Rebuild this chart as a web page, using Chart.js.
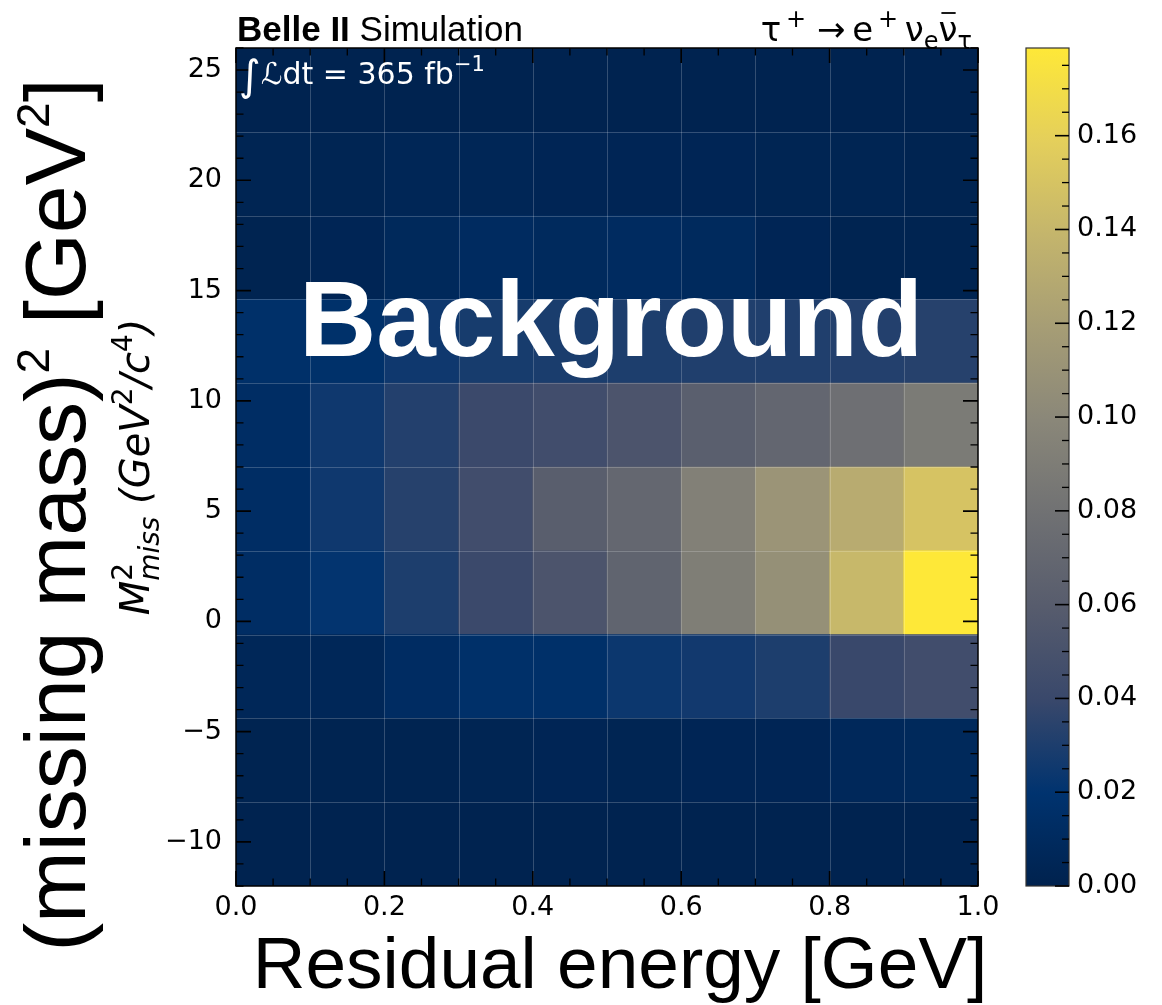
<!DOCTYPE html>
<html><head><meta charset="utf-8">
<script src="https://cdn.jsdelivr.net/npm/chart.js@4.4.1/dist/chart.umd.min.js"></script>
<style>html,body{margin:0;padding:0;background:#fff;}#wrap{width:1162px;height:1005px;position:relative;}</style>
</head><body><div id="wrap"><canvas id="c" width="1162" height="1005"></canvas></div>
<script>
// ---- data: bin edges ----
const xEdges = [0.0, 0.1, 0.2, 0.3, 0.4, 0.5, 0.6, 0.7, 0.8, 0.9, 1.0];
const yEdges = [-12, -8.2, -4.4, -0.6, 3.2, 7.0, 10.8, 14.6, 18.4, 22.2, 26];
// ---- tick labels ----
const xTicks = [0.0, 0.2, 0.4, 0.6, 0.8, 1.0];
const yTicks = [-10, -5, 0, 5, 10, 15, 20, 25];
const cbTicks = [0.00, 0.02, 0.04, 0.06, 0.08, 0.10, 0.12, 0.14, 0.16];
const vMax = 0.1787;
// ---- bin contents, one array per M2miss row (bottom to top), x bins left to right ----
const rowM12_M8p2   = [0.001, 0.001, 0.001, 0.001, 0.001, 0.001, 0.001, 0.001, 0.001, 0.001];
const rowM8p2_M4p4  = [0.002, 0.002, 0.002, 0.003, 0.004, 0.003, 0.004, 0.004, 0.007, 0.008];
const rowM4p4_M0p6  = [0.006, 0.006, 0.012, 0.016, 0.016, 0.024, 0.026, 0.030, 0.040, 0.045];
const rowM0p6_3p2   = [0.013, 0.021, 0.030, 0.041, 0.052, 0.067, 0.091, 0.107, 0.141, 0.1787];
const row3p2_7p0    = [0.013, 0.025, 0.033, 0.045, 0.061, 0.070, 0.093, 0.111, 0.131, 0.150];
const row7p0_10p8   = [0.013, 0.025, 0.032, 0.041, 0.045, 0.052, 0.062, 0.069, 0.078, 0.088];
const row10p8_14p6  = [0.016, 0.017, 0.025, 0.028, 0.029, 0.030, 0.031, 0.031, 0.032, 0.033];
const row14p6_18p4  = [0.002, 0.004, 0.008, 0.011, 0.009, 0.011, 0.009, 0.004, 0.002, 0.002];
const row18p4_22p2  = [0.003, 0.003, 0.005, 0.005, 0.004, 0.004, 0.004, 0.003, 0.003, 0.002];
const row22p2_26    = [0.001, 0.001, 0.001, 0.001, 0.001, 0.001, 0.001, 0.001, 0.001, 0.001];
const rows = [rowM12_M8p2, rowM8p2_M4p4, rowM4p4_M0p6, rowM0p6_3p2, row3p2_7p0,
              row7p0_10p8, row10p8_14p6, row14p6_18p4, row18p4_22p2, row22p2_26];

// ---- colormap (cividis) ----
const CMAP = ['#00224e','#00336f','#39486b','#575c6d','#707173','#8a8779','#a69d75','#c4b56c','#e4cf5b','#fee838'];
function hex2rgb(h){return [parseInt(h.slice(1,3),16),parseInt(h.slice(3,5),16),parseInt(h.slice(5,7),16)];}
const CM = CMAP.map(hex2rgb);
function cmap(t){
  t = Math.max(0, Math.min(1, t));
  const n = CM.length - 1, f = t * n, i = Math.min(Math.floor(f), n - 1), u = f - i;
  const c = CM[i].map((a, k) => Math.round(a + (CM[i+1][k] - a) * u));
  return `rgb(${c[0]},${c[1]},${c[2]})`;
}

const datasets = rows.map((vals, r) => ({
  label: `${yEdges[r]} to ${yEdges[r+1]}`,
  data: vals.map((v, i) => ({x: (xEdges[i] + xEdges[i+1]) / 2, y: [yEdges[r], yEdges[r+1]]})),
  backgroundColor: vals.map(v => cmap(v / vMax)),
  borderWidth: 0,
  grouped: false,
  barPercentage: 1,
  categoryPercentage: 1,
  xAxisID: 'x', yAxisID: 'y'
}));

const TICKFONT = {family: '"DejaVu Sans"', size: 27};
const fmtNum = v => (v < 0 ? '\u2212' + Math.abs(v) : String(v));

function drawRich(ctx, segs, x, y, align, color, rot) {
  ctx.save();
  ctx.translate(x, y);
  if (rot) ctx.rotate(rot);
  ctx.textBaseline = 'alphabetic'; ctx.textAlign = 'left';
  let total = 0;
  for (const s of segs) { ctx.font = s.font; s._w = ctx.measureText(s.t).width; if (s.adv !== false) total += s._w; }
  let cx = align === 'center' ? -total / 2 : (align === 'right' ? -total : 0);
  ctx.fillStyle = color; ctx.strokeStyle = color;
  for (const s of segs) {
    ctx.font = s.font;
    ctx.fillText(s.t, cx, s.dy || 0);
    if (s.bar) {
      ctx.lineWidth = 1.8;
      ctx.beginPath(); ctx.moveTo(cx + s._w * 0.15, (s.dy || 0) - s.bar); ctx.lineTo(cx + s._w * 0.9, (s.dy || 0) - s.bar); ctx.stroke();
    }
    if (s.adv !== false) cx += s._w;
  }
  ctx.restore();
}

const decor = {
  id: 'decor',
  beforeDatasetsDraw(chart) {
    const {ctx, chartArea: a} = chart;
    ctx.save(); ctx.fillStyle = cmap(0); ctx.fillRect(a.left, a.top, a.right - a.left, a.bottom - a.top); ctx.restore();
  },
  afterDatasetsDraw(chart) {
    const {ctx, chartArea: a, scales} = chart;
    const sx = scales.x, sy = scales.y, sc = scales.cb;
    ctx.save();
    // cell edge lines
    ctx.strokeStyle = 'rgba(255,255,255,0.2)'; ctx.lineWidth = 1;
    xEdges.slice(1, -1).forEach(v => { const p = Math.round(sx.getPixelForValue(v)) + 0.5; ctx.beginPath(); ctx.moveTo(p, a.top); ctx.lineTo(p, a.bottom); ctx.stroke(); });
    yEdges.slice(1, -1).forEach(v => { const p = Math.round(sy.getPixelForValue(v)) + 0.5; ctx.beginPath(); ctx.moveTo(a.left, p); ctx.lineTo(a.right, p); ctx.stroke(); });
    // ticks (inward, all four sides)
    ctx.strokeStyle = '#000';
    const MAJ = 15, MIN = 7.5;
    function xt(v, len, w) { const p = sx.getPixelForValue(v); ctx.lineWidth = w; ctx.beginPath(); ctx.moveTo(p, a.bottom); ctx.lineTo(p, a.bottom - len); ctx.moveTo(p, a.top); ctx.lineTo(p, a.top + len); ctx.stroke(); }
    function yt(v, len, w) { const p = sy.getPixelForValue(v); ctx.lineWidth = w; ctx.beginPath(); ctx.moveTo(a.left, p); ctx.lineTo(a.left + len, p); ctx.moveTo(a.right, p); ctx.lineTo(a.right - len, p); ctx.stroke(); }
    for (let k = 0; k <= 20; k++) { const v = k * 0.05; if (k % 4) xt(v, MIN, 1.3); }
    xTicks.forEach(v => xt(v, MAJ, 1.6));
    for (let v = -12; v <= 26; v++) { if (v % 5) yt(v, MIN, 1.3); }
    yTicks.forEach(v => yt(v, MAJ, 1.6));
    // frame
    ctx.lineWidth = 1.5; ctx.strokeStyle = '#000';
    ctx.strokeRect(a.left, a.top, a.right - a.left, a.bottom - a.top);
    // colorbar
    const cbL = 1026, cbR = 1069;
    const top = sc.getPixelForValue(vMax), bot = sc.getPixelForValue(0);
    const g = ctx.createLinearGradient(0, bot, 0, top);
    CMAP.forEach((c, i) => g.addColorStop(i / (CMAP.length - 1), c));
    ctx.fillStyle = g; ctx.fillRect(cbL, top, cbR - cbL, bot - top);
    ctx.strokeStyle = '#333'; ctx.lineWidth = 1.2; ctx.strokeRect(cbL, top, cbR - cbL, bot - top);
    ctx.strokeStyle = '#000';
    for (let k = 0; k * 0.005 <= vMax; k++) {
      const v = k * 0.005, p = sc.getPixelForValue(v), major = (k % 4 === 0);
      ctx.lineWidth = major ? 1.6 : 1.3;
      ctx.beginPath(); ctx.moveTo(cbR, p); ctx.lineTo(cbR - (major ? 14 : 7), p); ctx.stroke();
    }
    ctx.restore();
  },
  afterDraw(chart) {
    const {ctx, chartArea: a} = chart;
    const LS = '"Liberation Sans", Arial, sans-serif';
    const DV = '"DejaVu Sans", sans-serif';
    // Belle II Simulation
    drawRich(ctx, [{t: 'Belle II', font: `bold 35px ${LS}`}, {t: ' Simulation', font: `35px ${LS}`}], a.left + 1, 41, 'left', '#000');
    // process
    const F = `34px ${DV}`, S = `24px ${DV}`;
    drawRich(ctx, [
      {t: '\u03c4', font: F}, {t: '\u2009+', font: S, dy: -14}, {t: ' \u2192', font: F}, {t: '\u2009', font: F},
      {t: 'e', font: F}, {t: '\u2009+', font: S, dy: -14}, {t: '\u2009', font: F}, {t: '\u03bd', font: F}, {t: 'e', font: S, dy: 8},
      {t: '\u03bd', font: F, bar: 28}, {t: '\u03c4', font: S, dy: 8}
    ], a.right - 6, 41, 'right', '#000');
    // luminosity
    drawRich(ctx, [
      {t: '\u222b', font: `42px ${DV}`, dy: 6}, {t: '\u2112dt = 365 fb', font: `30px ${DV}`}, {t: '\u22121', font: `21px ${DV}`, dy: -13}
    ], a.left + 3, 84, 'left', '#fff');
    // Background
    ctx.save(); ctx.font = `bold 107px ${LS}`; ctx.fillStyle = '#fff'; ctx.textAlign = 'center'; ctx.textBaseline = 'alphabetic';
    ctx.fillText('Background', 611, 356); ctx.restore();
    // x title
    ctx.save(); ctx.font = `73px ${LS}`; ctx.fillStyle = '#000'; ctx.textAlign = 'center'; ctx.textBaseline = 'alphabetic';
    ctx.fillText('Residual energy [GeV]', 620, 988); ctx.restore();
    // big y title
    drawRich(ctx, [
      {t: '(missing mass)', font: `86px ${LS}`}, {t: '2', font: `46px ${LS}`, dy: -36},
      {t: ' [GeV', font: `86px ${LS}`}, {t: '2', font: `46px ${LS}`, dy: -36}, {t: ']', font: `86px ${LS}`}
    ], 85, 515, 'center', '#000', -Math.PI / 2);
    // small y title (mathtext style)
    const IF = `italic 40px ${DV}`, IS = `italic 28px ${DV}`, NS = `28px ${DV}`;
    drawRich(ctx, [
      {t: 'M', font: IF}, {t: '2', font: NS, dy: -17, adv: false}, {t: 'miss', font: IS, dy: 10},
      {t: ' (GeV', font: IF}, {t: '2', font: NS, dy: -17}, {t: '/c', font: IF}, {t: '4', font: NS, dy: -17}, {t: ')', font: IF}
    ], 149, (a.top + a.bottom) / 2, 'center', '#000', -Math.PI / 2);
  }
};

new Chart(document.getElementById('c'), {
  type: 'bar',
  data: {datasets},
  options: {
    responsive: false,
    devicePixelRatio: 1,
    animation: false,
    layout: {padding: {top: 48, left: 0, right: 0, bottom: 0}},
    plugins: {legend: {display: false}, tooltip: {enabled: false}, title: {display: false}},
    scales: {
      x: {
        type: 'linear', position: 'bottom', min: 0, max: 1, offset: false,
        grid: {display: false, drawTicks: false, offset: false}, border: {display: false},
        ticks: {font: TICKFONT, color: '#000', padding: 6, maxRotation: 0, autoSkip: false, callback: v => Number(v).toFixed(1)},
        afterBuildTicks: s => { s.ticks = xTicks.map(v => ({value: v})); },
        afterFit: s => { s.height = 119; }
      },
      y: {
        type: 'linear', position: 'left', min: yEdges[0], max: yEdges[yEdges.length - 1],
        grid: {display: false, drawTicks: false}, border: {display: false},
        ticks: {font: TICKFONT, color: '#000', padding: 14, autoSkip: false, callback: v => fmtNum(v)},
        afterBuildTicks: s => { s.ticks = yTicks.map(v => ({value: v})); },
        afterFit: s => { s.width = 236; }
      },
      cb: {
        type: 'linear', position: 'right', min: 0, max: vMax,
        grid: {display: false, drawTicks: true, tickLength: 93}, border: {display: false},
        ticks: {font: TICKFONT, color: '#000', padding: 6, autoSkip: false, callback: v => Number(v).toFixed(2)},
        afterBuildTicks: s => { s.ticks = cbTicks.map(v => ({value: v})); },
        afterFit: s => { s.width = 184; }
      }
    }
  },
  plugins: [decor]
});
</script></body></html>
